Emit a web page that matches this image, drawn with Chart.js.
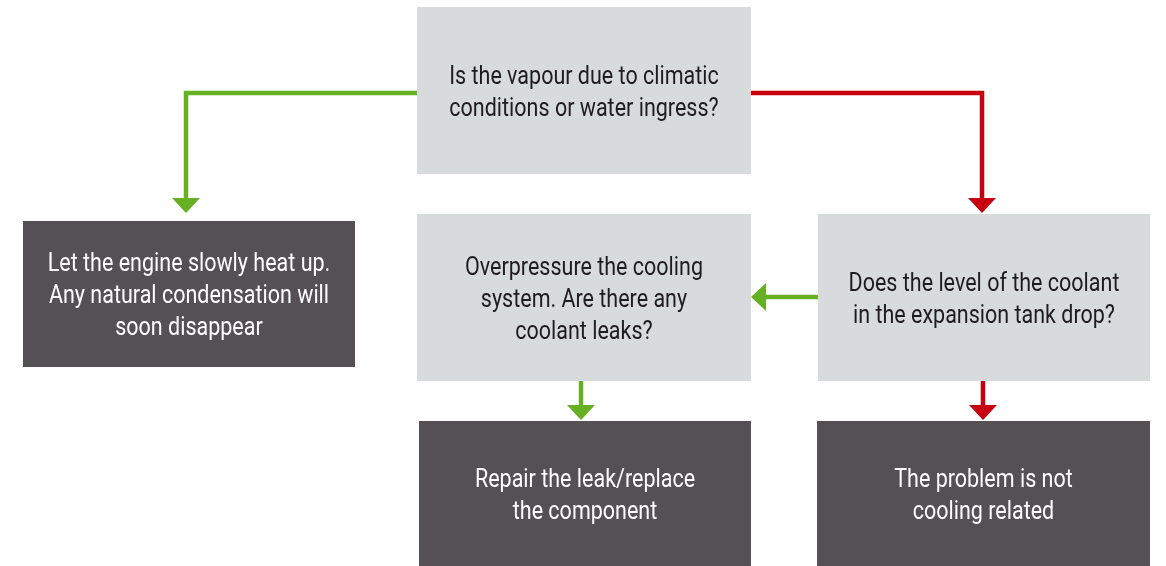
<!DOCTYPE html>
<html>
<head>
<meta charset="utf-8">
<script src="https://cdn.jsdelivr.net/npm/chart.js@4"></script>
<style>
  html, body { margin: 0; padding: 0; background: #ffffff; }
  #wrap { width: 1166px; height: 566px; }
</style>
</head>
<body>
<div id="wrap"><canvas id="flow" width="1166" height="566"></canvas></div>
<script>
// flowchart content
const nodeText = [
    ['Is the vapour due to climatic', 'conditions or water ingress?'],
    ['Let the engine slowly heat up.', 'Any natural condensation will', 'soon disappear'],
    ['Overpressure the cooling', 'system. Are there any', 'coolant leaks?'],
    ['Does the level of the coolant', 'in the expansion tank drop?'],
    ['Repair the leak/replace', 'the component'],
    ['The problem is not', 'cooling related']
];
const nodeKind = ['question', 'answer', 'question', 'question', 'answer', 'answer'];
const edgeFrom = [0, 0, 3, 2, 3];
const edgeTo = [1, 3, 2, 4, 5];
const edgeAnswer = ['yes', 'no', 'yes', 'yes', 'no'];

// layout (chart units = pixels of the 1166x566 area)
const layout = {
    boxes: [
        [417, 751, 7, 174],
        [23, 355, 221, 367],
        [417, 751, 214, 381],
        [818, 1150, 214, 381],
        [419, 751, 421, 566],
        [817, 1150, 421, 566]
    ],
    paths: [
        [[417, 93], [186, 93], [186, 213]],
        [[751, 93], [982, 93], [982, 213]],
        [[818, 297], [751, 297]],
        [[581, 381], [581, 420]],
        [[983, 381], [983, 420]]
    ]
};

const colors = {
    question: '#d8dbdc',
    answer: '#545054',
    questionText: '#1e1c1d',
    answerText: '#ffffff',
    yes: '#68b023',
    no: '#c6000f'
};

const flowPlugin = {
    id: 'flowPlugin',
    afterDatasetsDraw(chart) {
        const ctx = chart.ctx;
        const xs = chart.scales.x;
        const ys = chart.scales.y;
        const px = v => xs.getPixelForValue(v);
        const py = v => ys.getPixelForValue(v);

        ctx.save();
        // boxes
        layout.boxes.forEach((b, i) => {
            const x0 = px(b[0]), x1 = px(b[1]), y0 = py(b[2]), y1 = py(b[3]);
            ctx.fillStyle = colors[nodeKind[i]];
            ctx.fillRect(x0, y0, x1 - x0, y1 - y0);

            const lines = nodeText[i];
            const cx = (x0 + x1) / 2;
            const cy = (y0 + y1) / 2;
            const lh = 32;
            ctx.fillStyle = colors[nodeKind[i] + 'Text'];
            ctx.font = '25px Roboto';
            ctx.textAlign = 'center';
            ctx.textBaseline = 'alphabetic';
            lines.forEach((t, j) => {
                const ty = cy + (j - (lines.length - 1) / 2) * lh + 9;
                ctx.save();
                ctx.translate(cx, ty);
                ctx.scale(0.86, 1);
                ctx.fillText(t, 0, 0);
                ctx.restore();
            });
        });

        // connectors
        layout.paths.forEach((p, i) => {
            const col = colors[edgeAnswer[i]];
            const pts = p.map(q => [px(q[0]), py(q[1])]);
            const n = pts.length;
            const tip = pts[n - 1];
            const prev = pts[n - 2];
            const dx = Math.sign(tip[0] - prev[0]);
            const dy = Math.sign(tip[1] - prev[1]);
            const headLen = 15, headHalf = 14;
            const base = [tip[0] - dx * headLen, tip[1] - dy * headLen];

            ctx.strokeStyle = col;
            ctx.lineWidth = 4.5;
            ctx.lineJoin = 'miter';
            ctx.lineCap = 'butt';
            ctx.beginPath();
            ctx.moveTo(pts[0][0], pts[0][1]);
            for (let k = 1; k < n - 1; k++) ctx.lineTo(pts[k][0], pts[k][1]);
            ctx.lineTo(base[0] + dx, base[1] + dy);
            ctx.stroke();

            ctx.fillStyle = col;
            ctx.beginPath();
            ctx.moveTo(tip[0], tip[1]);
            ctx.lineTo(base[0] - dy * headHalf, base[1] + dx * headHalf);
            ctx.lineTo(base[0] + dy * headHalf, base[1] - dx * headHalf);
            ctx.closePath();
            ctx.fill();
        });
        ctx.restore();
    }
};

new Chart(document.getElementById('flow'), {
    type: 'scatter',
    data: {
        datasets: [{
            data: edgeFrom.map((f, i) => ({ x: f, y: edgeTo[i] })),
            pointRadius: 0,
            showLine: false
        }]
    },
    options: {
        responsive: false,
        animation: false,
        events: [],
        layout: { padding: 0 },
        plugins: { legend: { display: false }, tooltip: { enabled: false } },
        scales: {
            x: { type: 'linear', min: 0, max: 1166, display: false },
            y: { type: 'linear', min: 0, max: 566, reverse: true, display: false }
        }
    },
    plugins: [flowPlugin]
});
</script>
</body>
</html>
